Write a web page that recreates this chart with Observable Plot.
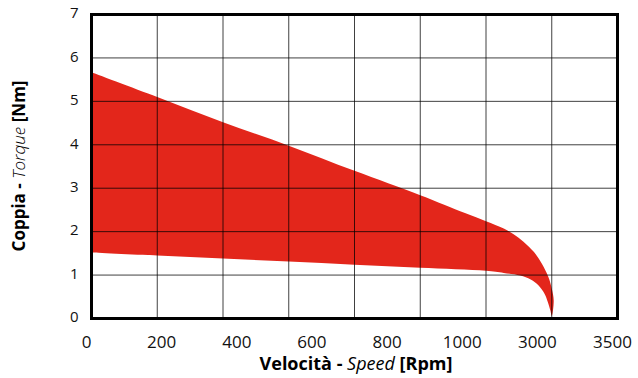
<!DOCTYPE html>
<html>
<head>
<meta charset="utf-8">
<script src="https://cdn.jsdelivr.net/npm/d3@7"></script>
<script src="https://cdn.jsdelivr.net/npm/@observablehq/plot@0.6"></script>
<style>
  html, body { margin: 0; padding: 0; background: #fff; }
</style>
</head>
<body>
<div id="chart"></div>
<script>
// X tick labels (evenly spread along the bottom, as in the source)
const xTickLabels = ["0", "200", "400", "600", "800", "1000", "3000", "3500"];
// Grid columns (8 equal cells) and torque ticks
const gridColumns = [0, 1, 2, 3, 4, 5, 6, 7, 8];
const torqueTicks = [0, 1, 2, 3, 4, 5, 6, 7];

// Operating region: upper edge (left -> right, down to the tip)
const upperPos = [0, 1, 2, 3, 4, 5, 5.68, 6, 6.27, 6.42, 6.57, 6.73, 6.85, 6.95, 7.0, 7.03, 7.0];
const upperTorque = [5.67, 5.10, 4.52, 3.98, 3.40, 2.84, 2.43, 2.24, 2.07, 1.94, 1.77, 1.53, 1.26, 0.95, 0.69, 0.41, 0.06];
// Lower edge (from the tip back to the left)
const lowerPos = [6.98, 6.94, 6.89, 6.80, 6.68, 6.52, 6.27, 6, 5, 4, 3, 2, 1, 0];
const lowerTorque = [0.18, 0.38, 0.57, 0.76, 0.90, 0.99, 1.05, 1.10, 1.17, 1.24, 1.31, 1.38, 1.45, 1.52];

const shape = [
  ...upperPos.map((u, i) => ({u, t: upperTorque[i]})),
  ...lowerPos.map((u, i) => ({u, t: lowerTorque[i]}))
];

const chart = Plot.plot({
  width: 638,
  height: 378,
  marginLeft: 91,
  marginRight: 21,
  marginTop: 14,
  marginBottom: 60,
  x: {domain: [0, 8], axis: null},
  y: {domain: [0, 7], axis: null},
  style: {fontFamily: "'Open Sans', sans-serif", background: "#fff", color: "#111"},
  marks: [
    Plot.line(shape, {x: "u", y: "t", fill: "#e3261b", stroke: "none", curve: "catmull-rom"}),
    Plot.ruleX(gridColumns, {stroke: "#000", strokeOpacity: 0.75, strokeWidth: 1}),
    Plot.ruleY(torqueTicks, {stroke: "#000", strokeOpacity: 0.75, strokeWidth: 1}),
    Plot.frame({stroke: "#000", strokeWidth: 3}),
    Plot.text(torqueTicks, {x: 0, y: d => d, text: d => String(d), textAnchor: "end", dx: -13, dy: -1, fontSize: 15, fill: "#111"}),
    Plot.text(xTickLabels, {x: (d, i) => i * 8 / 7, y: 0, text: d => d, dx: -5, dy: 24, fontSize: 17, fill: "#111"})
  ]
});

const svg = d3.select(chart);
// Y axis title
const yt = svg.append("text")
  .attr("transform", "translate(20,166) rotate(-90)")
  .attr("text-anchor", "middle")
  .attr("dominant-baseline", "middle")
  .attr("font-size", 17)
  .attr("fill", "#000");
yt.append("tspan").attr("font-weight", 700).text("Coppia - ");
yt.append("tspan").attr("font-style", "italic").attr("font-weight", 300).text("Torque");
yt.append("tspan").attr("font-weight", 700).text(" [Nm]");
// X axis title
const xt = svg.append("text")
  .attr("x", 356).attr("y", 365)
  .attr("text-anchor", "middle")
  .attr("dominant-baseline", "middle")
  .attr("font-size", 18)
  .attr("fill", "#000");
xt.append("tspan").attr("font-weight", 700).text("Velocità - ");
xt.append("tspan").attr("font-style", "italic").attr("font-weight", 400).text("Speed");
xt.append("tspan").attr("font-weight", 700).text(" [Rpm]");

document.getElementById("chart").appendChild(chart);
</script>
</body>
</html>
